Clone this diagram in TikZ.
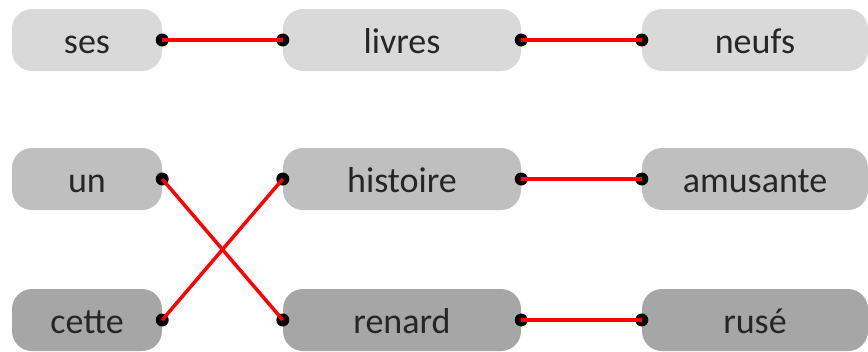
\documentclass[tikz,border=0pt]{standalone}
\usepackage{fontspec}
\setmainfont{Carlito}
\usetikzlibrary{positioning}

\definecolor{rowA}{HTML}{D9D9D9}
\definecolor{rowB}{HTML}{BFBFBF}
\definecolor{rowC}{HTML}{A6A6A6}

\begin{document}
\begin{tikzpicture}[x=1pt,y=-1pt,
  word/.style={rounded corners=20pt,minimum height=62pt,inner sep=0pt,text height=26pt,text depth=0pt,font=\fontsize{36}{43}\selectfont,text=black!85},
  link/.style={red,line width=3.5pt},
  dot/.style={fill=black}]
\useasboundingbox (0,0) rectangle (868,351);

\foreach \w/\x/\bw [count=\n] in {ses/87/150,livres/402/238,neufs/755/226}
  \node[word,fill=rowA,minimum width=\bw pt](A\n) at (\x,40) {\w};
\foreach \w/\x/\bw [count=\n] in {un/87/150,histoire/402/238,amusante/755/226}
  \node[word,fill=rowB,minimum width=\bw pt](B\n) at (\x,179) {\w};
\foreach \w/\x/\bw [count=\n] in {cette/87/150,renard/402/238,rusé/755/226}
  \node[word,fill=rowC,minimum width=\bw pt](C\n) at (\x,320) {\w};

% pairs of words
\foreach \a/\b in {A1/A2,A2/A3,B1/C2,C1/B2,B2/B3,C2/C3}{
  \fill[dot] (\a.east) circle (6.5pt) (\b.west) circle (6.5pt);
  \draw[link] (\a.east) -- (\b.west);
}
\end{tikzpicture}
\end{document}
